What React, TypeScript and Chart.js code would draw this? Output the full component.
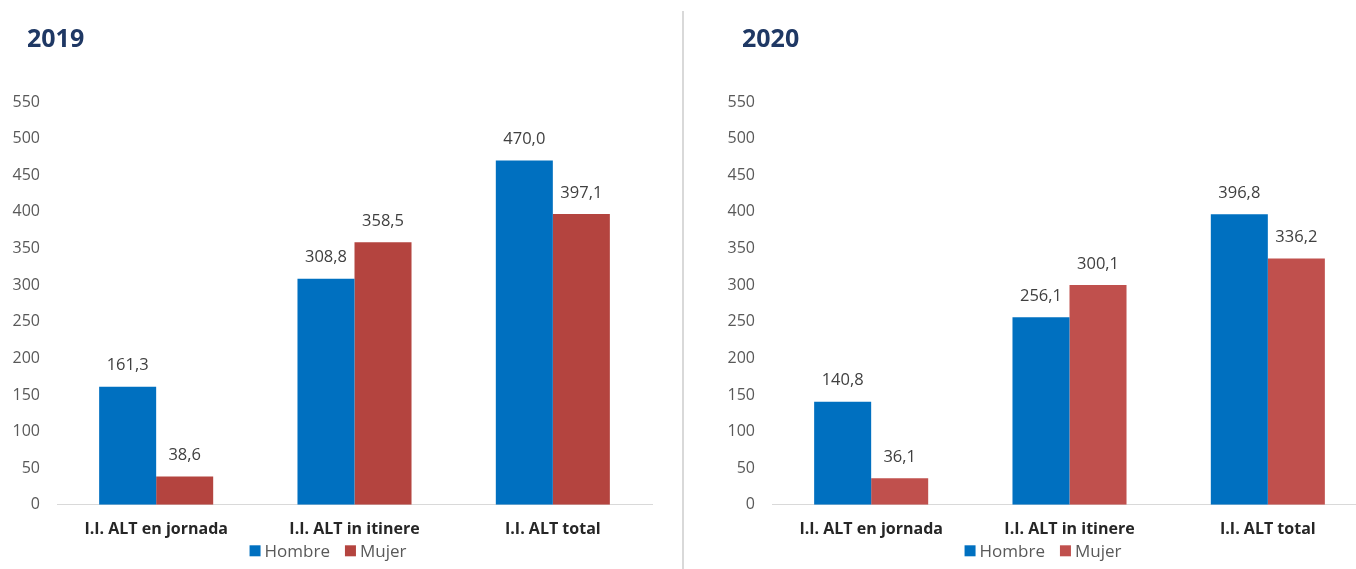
import React, { useEffect, useRef } from "react";
import { Chart, registerables } from "chart.js";

Chart.register(...registerables);

const categories = ["I.I. ALT en jornada", "I.I. ALT in itinere", "I.I. ALT total"];
const seriesNames = ["Hombre", "Mujer"];
const hombre2019 = [161.3, 308.8, 470.0];
const mujer2019 = [38.6, 358.5, 397.1];
const hombre2020 = [140.8, 256.1, 396.8];
const mujer2020 = [36.1, 300.1, 336.2];
const yMin = 0;
const yMax = 550;
const yStep = 50;

const FONT = "'Open Sans', 'Noto Sans', sans-serif";

const dataLabelPlugin = {
  id: "dataLabels",
  afterDatasetsDraw(chart: any) {
    const ctx = chart.ctx;
    ctx.save();
    ctx.font = `16.5px ${FONT}`;
    ctx.fillStyle = "#404040";
    ctx.textAlign = "center";
    ctx.textBaseline = "middle";
    chart.data.datasets.forEach((ds: any, i: number) => {
      const meta = chart.getDatasetMeta(i);
      meta.data.forEach((el: any, j: number) => {
        const v = ds.data[j] as number;
        ctx.fillText(v.toFixed(1).replace(".", ","), el.x, el.y - 21);
      });
    });
    ctx.restore();
  },
};

// Legend drawn below the category labels, centred under the chart
const bottomLegendPlugin = {
  id: "bottomLegend",
  afterDraw(chart: any) {
    const ctx = chart.ctx;
    const ds = chart.data.datasets;
    ctx.save();
    ctx.font = `17px ${FONT}`;
    ctx.textBaseline = "middle";
    ctx.textAlign = "left";
    const box = 11;
    const gap = 4;
    const itemGap = 15;
    const widths = ds.map((d: any) => ctx.measureText(d.label).width);
    const total = widths.reduce((a: number, w: number) => a + box + gap + w, 0) + itemGap * (ds.length - 1);
    let x = chart.width / 2 - 12 - total / 2;
    const y = chart.chartArea.bottom + 46;
    ds.forEach((d: any, i: number) => {
      ctx.fillStyle = d.backgroundColor;
      ctx.fillRect(x, y - box / 2, box, box);
      x += box + gap;
      ctx.fillStyle = "#595959";
      ctx.fillText(d.label, x, y + 1);
      x += widths[i] + itemGap;
    });
    ctx.restore();
  },
};

function BarChart({ hombre, mujer, redColor }: { hombre: number[]; mujer: number[]; redColor: string }) {
  const ref = useRef<HTMLCanvasElement | null>(null);
  useEffect(() => {
    if (!ref.current) return;
    const chart = new Chart(ref.current, {
      type: "bar",
      data: {
        labels: categories,
        datasets: [
          { label: seriesNames[0], data: hombre, backgroundColor: "#0070C0", barPercentage: 1, categoryPercentage: 0.575 },
          { label: seriesNames[1], data: mujer, backgroundColor: redColor, barPercentage: 1, categoryPercentage: 0.575 },
        ],
      },
      options: {
        animation: false,
        responsive: false,
        maintainAspectRatio: false,
        layout: { padding: { left: 11, right: 28, top: 102, bottom: 15 } },
        plugins: {
          tooltip: { enabled: false },
          legend: { display: false },
        },
        scales: {
          x: {
            grid: { display: false, drawTicks: false },
            border: { display: true, color: "#D9D9D9", width: 1 },
            ticks: { color: "#262626", font: { family: FONT, size: 16, weight: "bold" }, padding: 15 },
          },
          y: {
            min: yMin,
            max: yMax,
            grid: { display: false, drawTicks: false },
            border: { display: false },
            ticks: { stepSize: yStep, color: "#595959", font: { family: FONT, size: 16 }, padding: 17 },
            afterFit: (s: any) => {
              s.width = 46;
            },
          },
        },
      },
      plugins: [dataLabelPlugin, bottomLegendPlugin],
    } as any);
    return () => chart.destroy();
  }, [hombre, mujer, redColor]);
  return <canvas ref={ref} width={680} height={569} style={{ width: 680, height: 569, display: "block" }} />;
}

export default function App() {
  const titleStyle: React.CSSProperties = {
    position: "absolute",
    top: 22,
    fontFamily: FONT,
    fontWeight: 700,
    fontSize: 25,
    lineHeight: "30px",
    color: "#1F3864",
  };
  return (
    <div style={{ position: "fixed", left: 0, top: 0, width: 1356, height: 569, overflow: "hidden", background: "#fff" }}>
      <div style={{ position: "absolute", left: 0, top: 0 }}>
        <BarChart hombre={hombre2019} mujer={mujer2019} redColor="#B4443F" />
      </div>
      <div style={{ position: "absolute", left: 715, top: 0 }}>
        <BarChart hombre={hombre2020} mujer={mujer2020} redColor="#C0504D" />
      </div>
      <div style={{ ...titleStyle, left: 27 }}>2019</div>
      <div style={{ ...titleStyle, left: 742 }}>2020</div>
      <div style={{ position: "absolute", left: 682, top: 11, width: 2, height: 558, background: "#D9D9D9" }} />
    </div>
  );
}
